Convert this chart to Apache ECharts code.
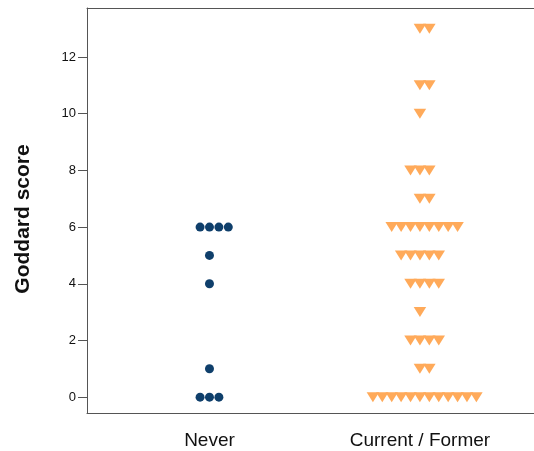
<!DOCTYPE html>
<html>
<head>
<meta charset="utf-8">
<script src="https://cdn.jsdelivr.net/npm/echarts@6/dist/echarts.min.js"></script>
<style>html,body{margin:0;padding:0;background:#fff;overflow:hidden}#c{width:534px;height:451px}</style>
</head>
<body>
<div id="c"></div>
<script>
var categories = ['Never', 'Current / Former'];
var yTicks = [0, 2, 4, 6, 8, 10, 12];
var neverScores = [0, 0, 0, 1, 4, 5, 6, 6, 6, 6];
var currentScores = [0,0,0,0,0,0,0,0,0,0,0,0, 1,1, 2,2,2,2, 3, 4,4,4,4, 5,5,5,5,5, 6,6,6,6,6,6,6,6, 7,7, 8,8,8, 10, 11,11, 13,13];

var STEP = 0.0447;
function swarm(scores, center) {
  var groups = {};
  scores.forEach(function (s) { groups[s] = (groups[s] || 0) + 1; });
  var out = [];
  Object.keys(groups).forEach(function (k) {
    var n = groups[k];
    var start = -Math.floor((n - 1) / 2);
    for (var i = 0; i < n; i++) out.push([center + (start + i) * STEP, Number(k)]);
  });
  return out;
}

var lineStyle = { color: '#555', width: 1 };
var chart = echarts.init(document.getElementById('c'));
chart.setOption({
  animation: false,
  grid: { left: 87, right: 0, top: 8, bottom: 38 },
  graphic: [{
    type: 'text', x: 23, y: 219, rotation: Math.PI / 2,
    style: { text: 'Goddard score', font: 'bold 21px "Liberation Sans", Arial, sans-serif', fill: '#111', align: 'center', verticalAlign: 'middle' }
  }],
  xAxis: [{
    type: 'value', min: 0.418, max: 2.542, position: 'bottom',
    axisLine: { show: true, onZero: false, lineStyle: lineStyle }, axisTick: { show: false }, splitLine: { show: false },
    axisLabel: {
      customValues: [1, 2], margin: 18,
      formatter: function (v) { return categories[Math.round(v) - 1]; },
      fontSize: 19, color: '#111', fontFamily: '"Liberation Sans", Arial, sans-serif'
    }
  }, {
    type: 'value', min: 0.418, max: 2.542, position: 'top',
    axisLine: { show: true, onZero: false, lineStyle: lineStyle }, axisTick: { show: false },
    axisLabel: { show: false }, splitLine: { show: false }
  }],
  yAxis: {
    type: 'value', min: -0.56, max: 13.73,
    axisLine: { show: true, onZero: false, lineStyle: lineStyle },
    axisTick: { show: true, customValues: yTicks, length: 9, lineStyle: { color: '#555' } },
    splitLine: { show: false },
    axisLabel: { customValues: yTicks, margin: 11, fontSize: 13, color: '#111', fontFamily: '"Liberation Sans", Arial, sans-serif' }
  },
  series: [
    { type: 'scatter', data: swarm(neverScores, 1), symbol: 'circle', symbolSize: 9, itemStyle: { color: '#0f3f6b', opacity: 1 } },
    { type: 'scatter', data: swarm(currentScores, 2), symbol: 'triangle', symbolRotate: 180, symbolSize: [12.5, 10], itemStyle: { color: '#ffaa5a', opacity: 1 } }
  ]
});
</script>
</body>
</html>
